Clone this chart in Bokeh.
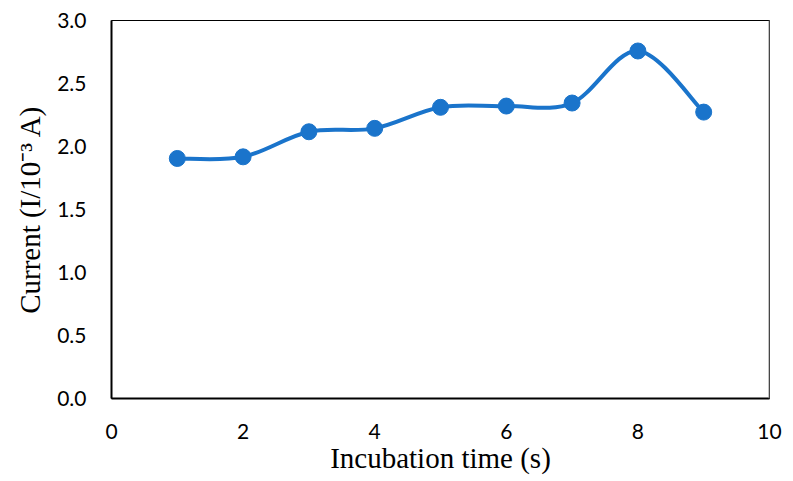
import numpy as np
from bokeh.plotting import figure
from bokeh.models import Range1d, FixedTicker, Span
from bokeh.embed import file_html
from bokeh.resources import INLINE

# Data
incubation_time = [1, 2, 3, 4, 5, 6, 7, 8, 9]
current = [1.905, 1.918, 2.117, 2.144, 2.311, 2.321, 2.345, 2.758, 2.273]
x_ticks = [0, 2, 4, 6, 8, 10]
y_ticks = [0.0, 0.5, 1.0, 1.5, 2.0, 2.5, 3.0]

BLUE = "#1a74cb"

p = figure(width=793, height=481, output_backend="svg", toolbar_location=None,
           x_range=Range1d(0, 10), y_range=Range1d(0, 3.0),
           min_border_left=111, min_border_right=24, min_border_top=20, min_border_bottom=83)

p.xgrid.visible = False
p.ygrid.visible = False
p.outline_line_color = "black"
p.outline_line_width = 1

# Smoothed line (Catmull-Rom style Bezier segments, as in a spreadsheet's smoothed line)
xs = np.array(incubation_time, dtype=float)
ys = np.array(current, dtype=float)
n = len(xs)
x0, y0, x1, y1, cx0, cy0, cx1, cy1 = [], [], [], [], [], [], [], []
for i in range(n - 1):
    im = max(i - 1, 0)
    ip2 = min(i + 2, n - 1)
    x0.append(xs[i]); y0.append(ys[i])
    x1.append(xs[i + 1]); y1.append(ys[i + 1])
    cx0.append(xs[i] + (xs[i + 1] - xs[im]) / 6.0)
    cy0.append(ys[i] + (ys[i + 1] - ys[im]) / 6.0)
    cx1.append(xs[i + 1] - (xs[ip2] - xs[i]) / 6.0)
    cy1.append(ys[i + 1] - (ys[ip2] - ys[i]) / 6.0)
p.bezier(x0=x0, y0=y0, x1=x1, y1=y1, cx0=cx0, cy0=cy0, cx1=cx1, cy1=cy1,
         line_color=BLUE, line_width=4)
p.scatter(incubation_time, current, size=16, marker="circle", fill_color=BLUE, line_color=BLUE)

p.add_layout(Span(location=10, dimension="height", line_color="#8c8c8c", line_width=2))

for ax in (p.xaxis[0], p.yaxis[0]):
    ax.axis_line_color = "black"
    ax.axis_line_width = 2
    ax.major_tick_line_color = None
    ax.minor_tick_line_color = None
    ax.major_tick_out = 0
    ax.major_tick_in = 0
    ax.minor_tick_out = 0
    ax.major_label_text_font = "Lato"
    ax.major_label_text_font_size = "21px"
    ax.major_label_text_color = "black"
    ax.axis_label_text_font = "Liberation Serif"
    ax.axis_label_text_font_size = "29px"
    ax.axis_label_text_font_style = "normal"
    ax.axis_label_text_color = "black"

p.xaxis.ticker = FixedTicker(ticks=x_ticks)
p.yaxis.ticker = FixedTicker(ticks=y_ticks)
p.xaxis.major_label_overrides = {t: str(t) for t in x_ticks}
p.yaxis.major_label_overrides = {t: f"{t:.1f}" for t in y_ticks}
p.xaxis.major_label_standoff = 25
p.yaxis.major_label_standoff = 25
p.xaxis.axis_label = "Incubation time (s)"
p.yaxis.axis_label = "Current (I/10\u207b\u00b3 A)"
p.xaxis.axis_label_standoff = 0
p.yaxis.axis_label_standoff = 8

open("out.html", "w").write(file_html(p, INLINE))
